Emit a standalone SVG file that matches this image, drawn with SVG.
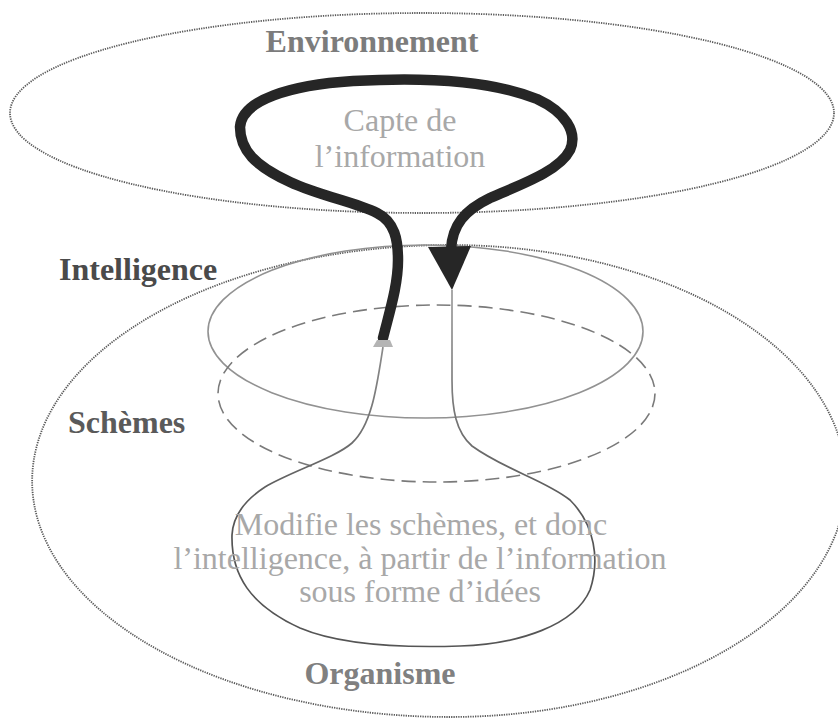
<svg xmlns="http://www.w3.org/2000/svg" width="838" height="719" viewBox="0 0 838 719">
  <style>
    .dotted { fill: none; stroke: #5a5a5a; stroke-width: 1.8; stroke-dasharray: 1.3 1.1; }
    .thin { fill: none; stroke: #929292; stroke-width: 1.6; }
    .dashed { fill: none; stroke: #7a7a7a; stroke-width: 1.6; stroke-dasharray: 14 7; }
    .title { font-family: "Liberation Serif", "Times New Roman", serif; font-weight: bold; font-size: 32px; }
    .body { font-family: "Liberation Serif", "Times New Roman", serif; font-size: 32px; fill: #a8a8a8; }
    .loop { fill: none; stroke: #262626; stroke-width: 10.5; stroke-linecap: round; stroke-linejoin: round; }
    .path { fill: none; stroke: url(#pathShade); stroke-width: 1.7; }
  </style>
  <defs>
    <!-- the thin path darkens as it goes down into the lower lobe -->
    <linearGradient id="pathShade" gradientUnits="userSpaceOnUse" x1="0" y1="300" x2="0" y2="520">
      <stop offset="0" stop-color="#9a9a9a"/>
      <stop offset="1" stop-color="#555555"/>
    </linearGradient>
  </defs>
  <rect width="838" height="719" fill="#ffffff"/>

  <!-- Outer shapes -->
  <g id="environnement">
    <ellipse class="dotted" cx="422" cy="113" rx="412" ry="100"/>
    <text class="title" x="372" y="52" text-anchor="middle" fill="#7c7c7c">Environnement</text>
  </g>

  <g id="organisme">
    <path class="dotted" d="M 450 245 A 396 236 0 0 1 450 717 A 418 236 0 0 1 450 245 Z"/>
    <text class="title" x="380" y="684" text-anchor="middle" fill="#808080">Organisme</text>
  </g>

  <g id="intelligence">
    <ellipse class="thin" cx="425.5" cy="331.5" rx="217.5" ry="86.5"/>
    <text class="title" x="59" y="280" fill="#4a4a4a">Intelligence</text>
  </g>

  <g id="schemes">
    <ellipse class="dashed" cx="436.5" cy="393.5" rx="218.5" ry="88.5"/>
    <text class="title" x="68" y="433" fill="#5a5a5a">Schèmes</text>
  </g>

  <!-- Flow of information -->
  <g id="connectors">
    <!-- thin path: from the tail of the loop, round the lower lobe, back up to the arrow tip -->
    <path class="path" d="M 383 347
      C 377 385 372 425 352 443
      C 335 458 290 472 265 487
      C 245 500 233 515 232 535
      C 231 575 250 605 300 628
      C 340 645 400 648 460 646
      C 520 644 575 625 590 590
      C 600 560 595 525 570 500
      C 545 480 505 470 472 446
      C 456 432 452 410 452 380
      L 452 290"/>

    <!-- thick loop through the environment -->
    <path class="loop" d="M 383 338
      C 390 310 398 285 398 260
      C 398 240 395 222 377 213
      C 355 202 320 196 290 182
      C 255 166 240 150 240 127
      C 242 100 290 85 353 81
      C 420 77 490 80 537 99
      C 565 112 578 132 570 150
      C 560 170 525 183 490 198
      C 465 210 452 225 451 250"/>
    <polygon points="428,247 471,246 452,290" fill="#262626"/>
    <polygon points="373,347 393,347 390,340 377,340" fill="#b4b4b4"/>

    <text class="body" x="400" y="131" text-anchor="middle" fill="#b0b0b0">Capte de</text>
    <text class="body" x="400" y="167" text-anchor="middle" fill="#b0b0b0">l’information</text>

    <text class="body" x="421" y="535" text-anchor="middle">Modifie les schèmes, et donc</text>
    <text class="body" x="420" y="569" text-anchor="middle">l’intelligence, à partir de l’information</text>
    <text class="body" x="420" y="602" text-anchor="middle">sous forme d’idées</text>
  </g>
</svg>
